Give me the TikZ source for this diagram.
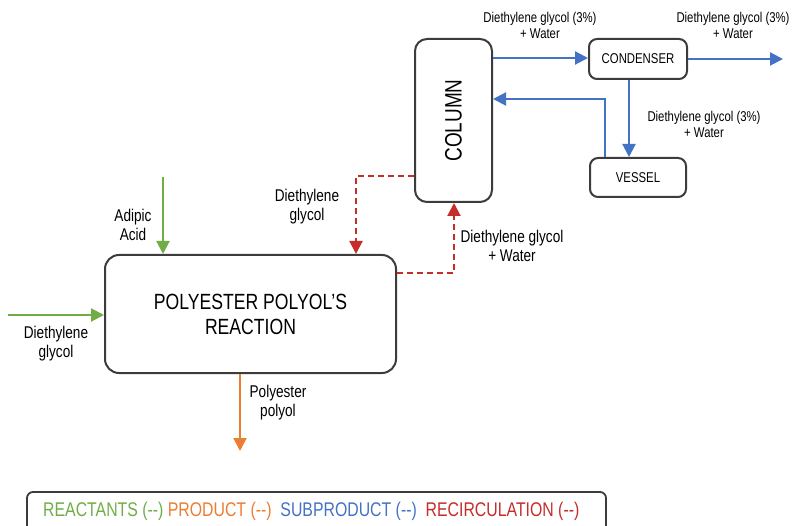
\documentclass[tikz,border=0pt]{standalone}
\usepackage{fontspec}
\setmainfont[FakeStretch=0.8]{Liberation Sans}
\usetikzlibrary{arrows.meta}
\definecolor{cgreen}{RGB}{112,173,71}
\definecolor{corange}{RGB}{237,125,49}
\definecolor{cblue}{RGB}{68,114,196}
\definecolor{cred}{RGB}{197,45,40}
\definecolor{cbox}{RGB}{60,60,60}
\tikzset{
  procbox/.style={draw=cbox, line width=2pt, rounded corners=14pt, inner sep=0pt, align=center},
  flow/.style={line width=2.1pt, -{Triangle[length=13pt,width=13pt]}},
  reactant/.style={flow, draw=cgreen},
  product/.style={flow, draw=corange},
  subprod/.style={flow, draw=cblue},
  recirc/.style={flow, draw=cred, dash pattern=on 6pt off 4pt},
  smalllbl/.style={align=center, font=\fontsize{14.2}{16}\selectfont, inner sep=0pt},
  biglbl/.style={align=center, font=\fontsize{17}{19}\selectfont, inner sep=0pt},
}
\newcommand{\dd}{(-{}-)}
\begin{document}
\begin{tikzpicture}[x=1pt,y=-1pt]
\useasboundingbox (0,0) rectangle (794,526);
% process boxes
\node[procbox, minimum width=291pt, minimum height=118pt, font=\fontsize{22}{25}\selectfont] (reaction) at (250.5,314) {POLYESTER POLYOL’S\\REACTION};
\node[procbox, rounded corners=12pt, minimum width=77pt, minimum height=163pt] (column) at (453.5,120.5) {};
\node[rotate=90, font=\fontsize{23.7}{26}\selectfont, inner sep=0pt] (columntext) at (column.center) {COLUMN};
\node[procbox, rounded corners=8pt, minimum width=98pt, minimum height=40pt, font=\fontsize{14.2}{16}\selectfont] (condenser) at (638,59) {CONDENSER};
\node[procbox, rounded corners=8pt, minimum width=96pt, minimum height=39pt, font=\fontsize{14.2}{16}\selectfont] (vessel) at (638,177.5) {VESSEL};
% free ends
\coordinate (adipicin) at (163,177);
\coordinate (dgin) at (8,315);
\coordinate (ppout) at (240,451);
\coordinate (condout) at (783,59);
% reactants
\draw[reactant] (adipicin) -- (reaction.north -| adipicin);
\draw[reactant] (dgin) -- (reaction.west |- dgin);
% product
\draw[product] (reaction.south -| ppout) -- (ppout);
% subproducts
\draw[subprod] (column.east |- 0,58) -- (condenser.west |- 0,58);
\draw[subprod] (condenser.east) -- (condout);
\draw[subprod] ([xshift=-9pt]condenser.south) -- ([xshift=-9pt]condenser.south |- vessel.north);
\draw[subprod] ([xshift=-33pt]vessel.north) |- (column.east |- 0,99);
% recirculation
\draw[recirc] (column.west |- 0,176) -| (reaction.north -| 356,0);
\draw[recirc] (reaction.east |- 0,273) -| (column.south -| 454,0);
% labels
\node[biglbl] (lbladipic) at (133,224.5) {Adipic\\Acid};
\node[biglbl] (lbldgin) at (56,343.5) {Diethylene\\glycol};
\node[biglbl] (lblpp) at (278,402.5) {Polyester\\polyol};
\node[biglbl] (lblrec1) at (307,207) {Diethylene\\glycol};
\node[biglbl] (lblrec2) at (512,246) {Diethylene glycol\\+ Water};
\node[smalllbl] (lbltop1) at (540,25) {Diethylene glycol (3\%)\\+ Water};
\node[smalllbl] (lbltop2) at (733,25) {Diethylene glycol (3\%)\\+ Water};
\node[smalllbl] (lblmid) at (704,124) {Diethylene glycol (3\%)\\+ Water};
% legend
\draw[draw=cbox, line width=1.8pt, rounded corners=6pt] (27,540) -- (27,492) -- (606,492) -- (606,540);
\node[anchor=west, inner sep=0pt, font=\fontsize{19.8}{22}\selectfont] (legend) at (43,511) {\textcolor{cgreen}{REACTANTS \dd} \textcolor{corange}{PRODUCT \dd}\ \ \textcolor{cblue}{SUBPRODUCT \dd}\ \ \textcolor{cred}{RECIRCULATION \dd}};
\end{tikzpicture}
\end{document}
